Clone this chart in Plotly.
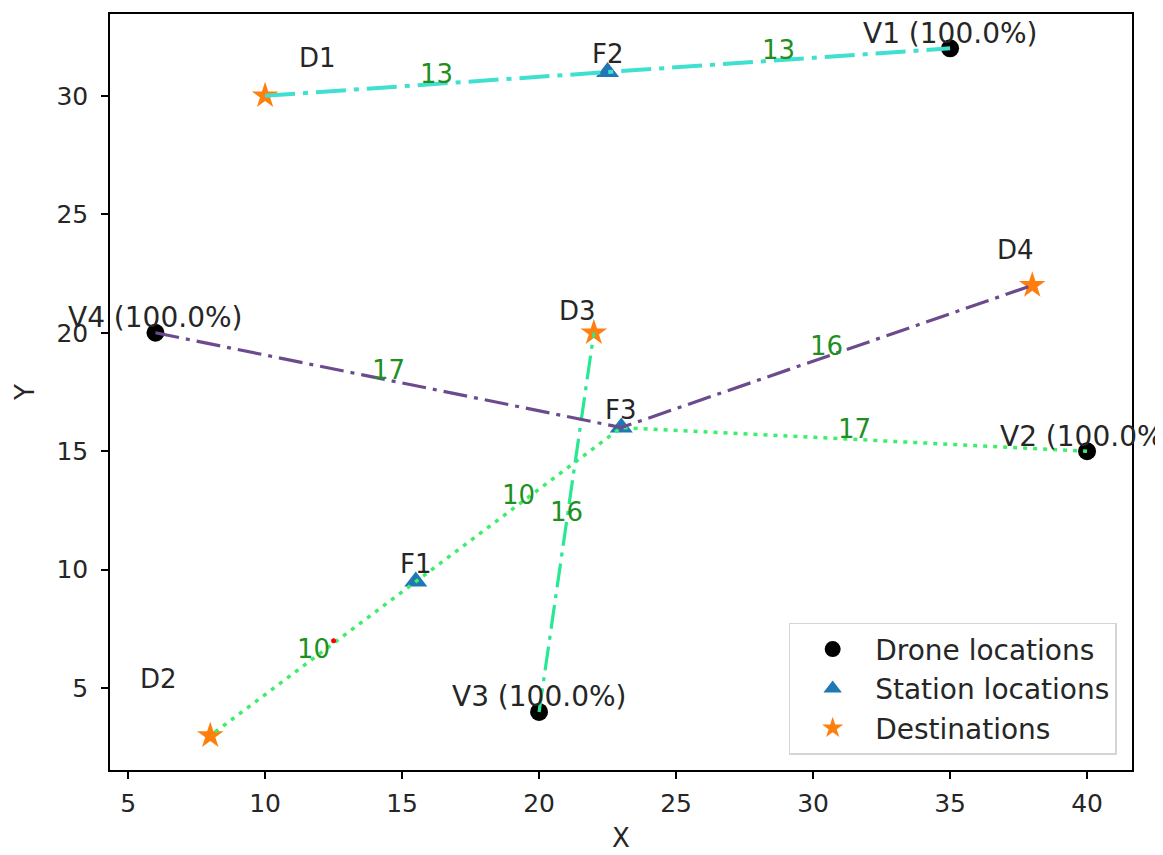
import plotly.graph_objects as go

# ---------------- data ----------------
drone_names = ["V1", "V2", "V3", "V4"]
drone_x = [35, 40, 20, 6]
drone_y = [32, 15, 4, 20]
drone_charge = [100.0, 100.0, 100.0, 100.0]

station_names = ["F1", "F2", "F3"]
station_x = [15.5, 22.5, 23]
station_y = [9.5, 31, 16]

dest_names = ["D1", "D2", "D3", "D4"]
dest_x = [10, 8, 22, 38]
dest_y = [30, 3, 20, 22]
dest_label_x = [11.9, 6.1, 21.4, 37.4]
dest_label_y = [31.6, 5.4, 20.9, 23.5]

route_nodes = [["D1", "F2", "V1"], ["V2", "F3", "F1", "D2"], ["V3", "D3"], ["V4", "F3", "D4"]]
route_dists = [[13, 13], [17, 10, 10], [16], [17, 16]]

extra_point_x = [12.5]
extra_point_y = [7.0]

x_ticks = [5, 10, 15, 20, 25, 30, 35, 40]
y_ticks = [5, 10, 15, 20, 25, 30]

# ---------------- styles ----------------
route_colors = ["#40E0D0", "#3DEE6C", "#27E893", "#6B4B8D"]
route_dash = ["30px,8px,5px,8px", "4px,6px", "24px,7px,4px,7px", "24px,7px,4px,7px"]
route_width = [4, 3.5, 3.2, 3.2]
FONT = "DejaVu Sans, Liberation Sans, sans-serif"
TXT = "#262626"

pos = {}
for n, x, y in zip(drone_names, drone_x, drone_y):
    pos[n] = (x, y)
for n, x, y in zip(station_names, station_x, station_y):
    pos[n] = (x, y)
for n, x, y in zip(dest_names, dest_x, dest_y):
    pos[n] = (x, y)

fig = go.Figure()

fig.add_trace(go.Scatter(x=drone_x, y=drone_y, mode="markers", name="Drone locations",
                         marker=dict(color="black", size=18, symbol="circle")))
fig.add_trace(go.Scatter(x=station_x, y=station_y, mode="markers", name="Station locations",
                         marker=dict(color="#1f77b4", size=20, symbol="triangle-up")))
fig.add_trace(go.Scatter(x=dest_x, y=dest_y, mode="markers", name="Destinations",
                         marker=dict(color="#ff7f0e", size=20, symbol="star")))

annotations = []
for nodes, dists, col, dash, w in zip(route_nodes, route_dists, route_colors, route_dash, route_width):
    xs = [pos[n][0] for n in nodes]
    ys = [pos[n][1] for n in nodes]
    fig.add_trace(go.Scatter(x=xs, y=ys, mode="lines", showlegend=False, hoverinfo="skip",
                             line=dict(color=col, width=w, dash=dash)))
    for i, d in enumerate(dists):
        mx = (xs[i] + xs[i + 1]) / 2
        my = (ys[i] + ys[i + 1]) / 2
        annotations.append(dict(x=mx, y=my, text=str(d), showarrow=False, yshift=10,
                                font=dict(color="#1f901f", size=26, family=FONT)))

fig.add_trace(go.Scatter(x=extra_point_x, y=extra_point_y, mode="markers", showlegend=False,
                         marker=dict(color="red", size=5)))

for n, x, y, c in zip(drone_names, drone_x, drone_y, drone_charge):
    annotations.append(dict(x=x, y=y, text=f"{n} ({c:.1f}%)", showarrow=False, yshift=15,
                            font=dict(color=TXT, size=28, family=FONT)))
for n, x, y in zip(station_names, station_x, station_y):
    annotations.append(dict(x=x, y=y, text=n, showarrow=False, yshift=18,
                            font=dict(color=TXT, size=26, family=FONT)))
for n, x, y in zip(dest_names, dest_label_x, dest_label_y):
    annotations.append(dict(x=x, y=y, text=n, showarrow=False,
                            font=dict(color=TXT, size=26, family=FONT)))

axis_common = dict(showgrid=False, zeroline=False, showline=True, mirror=True,
                   linecolor="black", linewidth=1.5, ticks="outside", ticklen=7,
                   tickwidth=1.5, tickcolor="black",
                   tickfont=dict(size=25, color=TXT, family=FONT))

fig.update_layout(
    width=1163, height=855,
    margin=dict(l=102, r=39, t=4, b=93),
    plot_bgcolor="white", paper_bgcolor="white",
    font=dict(family=FONT, color=TXT),
    annotations=annotations,
    xaxis=dict(range=[4.34, 41.64], tickvals=x_ticks, ticklabelstandoff=3,
               title=dict(text="X", font=dict(size=26, color=TXT), standoff=12), **axis_common),
    yaxis=dict(range=[1.55, 33.45], tickvals=y_ticks, ticklabelstandoff=8,
               title=dict(text="Y", font=dict(size=26, color=TXT), standoff=14), **axis_common),
    legend=dict(x=0.985, y=0.02, xanchor="right", yanchor="bottom",
                bgcolor="rgba(255,255,255,0.8)", bordercolor="#d5d5d5", borderwidth=1.5,
                font=dict(size=28, color=TXT, family=FONT), itemwidth=75),
    showlegend=True,
)

fig.write_html("out.html")
